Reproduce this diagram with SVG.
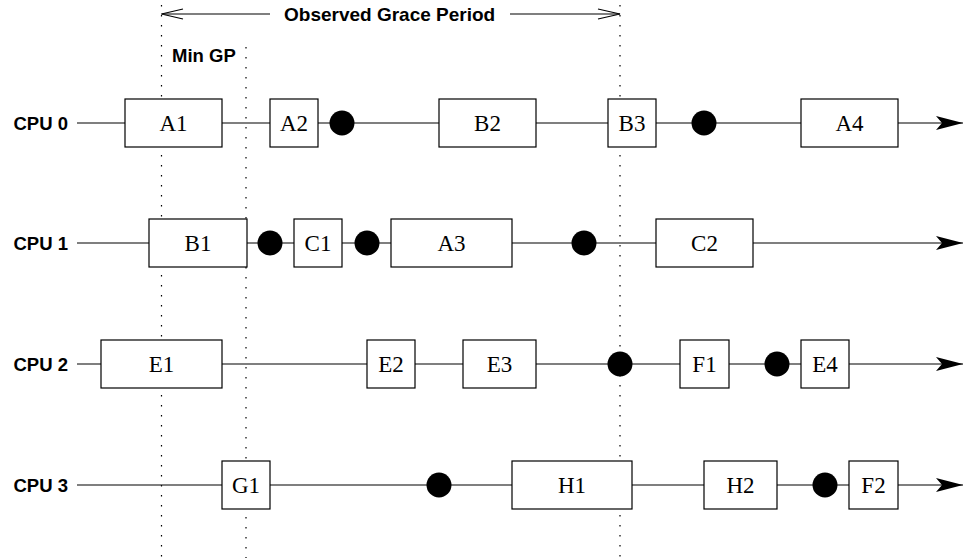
<svg xmlns="http://www.w3.org/2000/svg" width="963" height="558" viewBox="0 0 963 558">
  <style>
    .guide { stroke: #000; stroke-width: 1.2; stroke-dasharray: 1.5 8.5; fill: none; }
    .timeline { stroke: #000; stroke-width: 1.2; fill: none; }
    .box { fill: #fff; stroke: #000; stroke-width: 1.2; }
    .qs { fill: #000; }
    .lbl { font-family: "Liberation Serif", "Times New Roman", serif; font-size: 23px; text-anchor: middle; fill: #000; }
    .cpu { font-family: "Liberation Sans", Arial, sans-serif; font-weight: bold; font-size: 18.5px; text-anchor: end; fill: #000; }
    .note { font-family: "Liberation Sans", Arial, sans-serif; font-weight: bold; font-size: 18.5px; fill: #000; }
    .span { stroke: #000; stroke-width: 1.2; fill: none; }
  </style>
  <defs>
    <marker id="head" markerUnits="userSpaceOnUse" markerWidth="28" markerHeight="16" refX="27" refY="7" orient="auto">
      <path d="M27,7 L0,0 L6,7 L0,14 Z" fill="#000"/>
    </marker>
  </defs>

  <rect width="963" height="558" fill="#fff"/>

  <!-- vertical reference lines -->
  <g id="guides">
    <line class="guide" x1="161.5" y1="5" x2="161.5" y2="558"/>
    <line class="guide" x1="246" y1="47" x2="246" y2="558"/>
    <line class="guide" x1="620" y1="5" x2="620" y2="558"/>
  </g>

  <!-- grace period annotations -->
  <g id="observed-gp">
    <line class="span" x1="161.5" y1="14" x2="270" y2="14"/>
    <line class="span" x1="510" y1="14" x2="620" y2="14"/>
    <polyline class="span" points="183,9 161.5,14 183,19"/>
    <polyline class="span" points="598,9 620,14 598,19"/>
    <text class="note" x="284" y="21" style="font-size:19px">Observed Grace Period</text>
  </g>
  <g id="min-gp">
    <text class="note" x="172" y="62">Min GP</text>
  </g>

  <!-- per-CPU timelines -->
  <g id="connectors">
    <line class="timeline" x1="77" y1="123" x2="963" y2="123" marker-end="url(#head)"/>
    <line class="timeline" x1="77" y1="243" x2="963" y2="243" marker-end="url(#head)"/>
    <line class="timeline" x1="77" y1="364" x2="963" y2="364" marker-end="url(#head)"/>
    <line class="timeline" x1="77" y1="485" x2="963" y2="485" marker-end="url(#head)"/>
  </g>

  <!-- CPU 0 -->
  <g id="cpu0">
    <text class="cpu" x="68" y="130">CPU 0</text>
    <g id="A1"><rect class="box" x="125" y="99" width="97" height="48"/><text class="lbl" x="173.5" y="131">A1</text></g>
    <g id="A2"><rect class="box" x="270" y="99" width="48" height="48"/><text class="lbl" x="294" y="131">A2</text></g>
    <g id="qs0a"><circle class="qs" cx="342" cy="123" r="12.5"/></g>
    <g id="B2"><rect class="box" x="439" y="99" width="97" height="48"/><text class="lbl" x="487.5" y="131">B2</text></g>
    <g id="B3"><rect class="box" x="608" y="99" width="48" height="48"/><text class="lbl" x="632" y="131">B3</text></g>
    <g id="qs0b"><circle class="qs" cx="704" cy="123" r="12.5"/></g>
    <g id="A4"><rect class="box" x="801" y="99" width="97" height="48"/><text class="lbl" x="849.5" y="131">A4</text></g>
  </g>

  <!-- CPU 1 -->
  <g id="cpu1">
    <text class="cpu" x="68" y="250">CPU 1</text>
    <g id="B1"><rect class="box" x="149" y="219" width="98" height="48"/><text class="lbl" x="198" y="251">B1</text></g>
    <g id="qs1a"><circle class="qs" cx="270" cy="243" r="12.5"/></g>
    <g id="C1"><rect class="box" x="294" y="219" width="48" height="48"/><text class="lbl" x="318" y="251">C1</text></g>
    <g id="qs1b"><circle class="qs" cx="367" cy="243" r="12.5"/></g>
    <g id="A3"><rect class="box" x="391" y="219" width="121" height="48"/><text class="lbl" x="451.5" y="251">A3</text></g>
    <g id="qs1c"><circle class="qs" cx="584" cy="243" r="12.5"/></g>
    <g id="C2"><rect class="box" x="656" y="219" width="97" height="48"/><text class="lbl" x="704.5" y="251">C2</text></g>
  </g>

  <!-- CPU 2 -->
  <g id="cpu2">
    <text class="cpu" x="68" y="371">CPU 2</text>
    <g id="E1"><rect class="box" x="101" y="340" width="121" height="48"/><text class="lbl" x="161.5" y="372">E1</text></g>
    <g id="E2"><rect class="box" x="367" y="340" width="48" height="48"/><text class="lbl" x="391" y="372">E2</text></g>
    <g id="E3"><rect class="box" x="463" y="340" width="73" height="48"/><text class="lbl" x="499.5" y="372">E3</text></g>
    <g id="qs2a"><circle class="qs" cx="620" cy="364" r="12.5"/></g>
    <g id="F1"><rect class="box" x="680" y="340" width="49" height="48"/><text class="lbl" x="704.5" y="372">F1</text></g>
    <g id="qs2b"><circle class="qs" cx="777" cy="364" r="12.5"/></g>
    <g id="E4"><rect class="box" x="801" y="340" width="48" height="48"/><text class="lbl" x="825" y="372">E4</text></g>
  </g>

  <!-- CPU 3 -->
  <g id="cpu3">
    <text class="cpu" x="68" y="492">CPU 3</text>
    <g id="G1"><rect class="box" x="222" y="461" width="48" height="48"/><text class="lbl" x="246" y="493">G1</text></g>
    <g id="qs3a"><circle class="qs" cx="439" cy="485" r="12.5"/></g>
    <g id="H1"><rect class="box" x="512" y="461" width="120" height="48"/><text class="lbl" x="572" y="493">H1</text></g>
    <g id="H2"><rect class="box" x="704" y="461" width="73" height="48"/><text class="lbl" x="740.5" y="493">H2</text></g>
    <g id="qs3b"><circle class="qs" cx="825" cy="485" r="12.5"/></g>
    <g id="F2"><rect class="box" x="849" y="461" width="49" height="48"/><text class="lbl" x="873.5" y="493">F2</text></g>
  </g>
</svg>
